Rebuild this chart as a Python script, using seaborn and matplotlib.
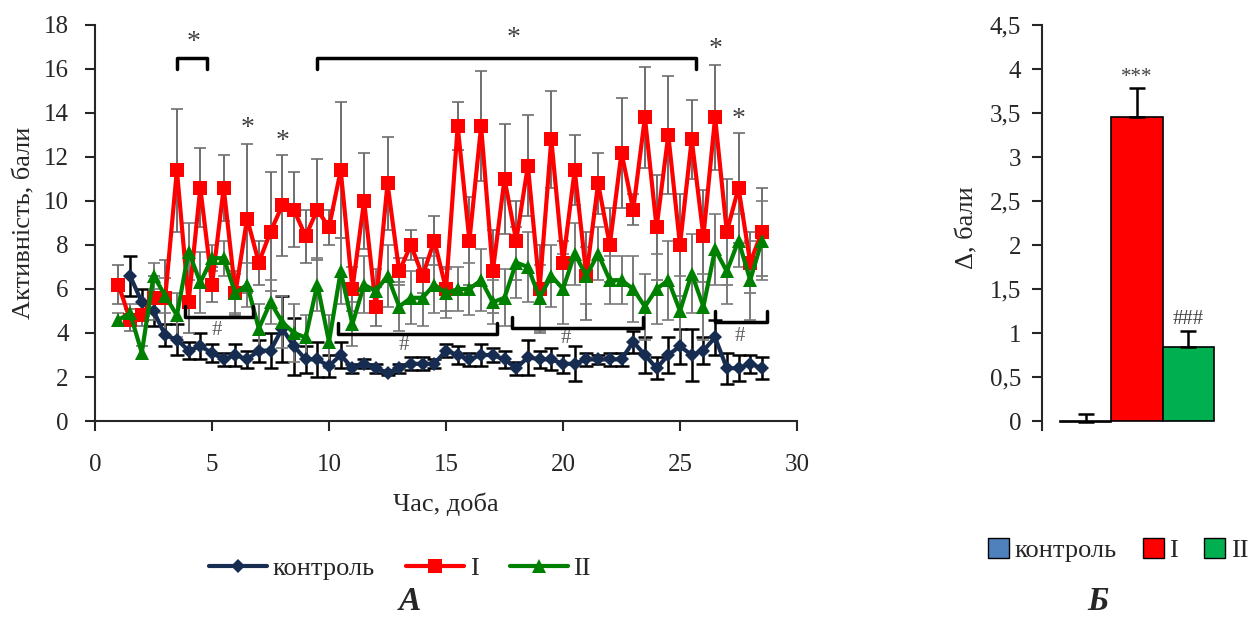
import matplotlib
matplotlib.use("Agg")
import matplotlib.pyplot as plt
from matplotlib.patches import Patch
import seaborn as sns
import pandas as pd
import numpy as np

# Дані
days = [1.0, 1.5, 2.0, 2.5, 3.0, 3.5, 4.0, 4.5, 5.0, 5.5, 6.0, 6.5, 7.0, 7.5,
        8.0, 8.5, 9.0, 9.5, 10.0, 10.5, 11.0, 11.5, 12.0, 12.5, 13.0, 13.5,
        14.0, 14.5, 15.0, 15.5, 16.0, 16.5, 17.0, 17.5, 18.0, 18.5, 19.0,
        19.5, 20.0, 20.5, 21.0, 21.5, 22.0, 22.5, 23.0, 23.5, 24.0, 24.5,
        25.0, 25.5, 26.0, 26.5, 27.0, 27.5, 28.0, 28.5]

control = [np.nan, 6.6, 5.4, 5.0, 3.9, 3.7, 3.2, 3.4, 3.1, 2.8, 3.0, 2.8, 3.2, 3.2,
           4.2, 3.4, 2.8, 2.8, 2.5, 3.0, 2.4, 2.6, 2.4, 2.2, 2.4, 2.6,
           2.6, 2.6, 3.2, 3.0, 2.8, 3.0, 3.0, 2.8, 2.4, 2.9, 2.8,
           2.8, 2.6, 2.6, 2.8, 2.8, 2.8, 2.8, 3.6, 3.0, 2.4, 3.0,
           3.4, 3.0, 3.2, 3.8, 2.4, 2.4, 2.6, 2.4]
control_err = [np.nan, 0.9, 0.6, 0.7, 0.5, 0.7, 0.4, 0.6, 0.4, 0.3, 0.5, 0.4, 0.5, 0.8,
               1.5, 1.3, 0.6, 0.8, 0.5, 0.6, 0.2, 0.2, 0.2, 0.1, 0.2, 0.3,
               0.3, 0.2, 0.3, 0.4, 0.3, 0.5, 0.3, 0.4, 0.3, 0.8, 0.4,
               0.5, 0.4, 0.8, 0.3, 0.2, 0.3, 0.3, 0.5, 0.8, 0.5, 0.8,
               0.8, 1.2, 0.6, 0.8, 0.7, 0.6, 0.4, 0.5]

group_i = [6.2, 4.6, 4.8, 5.6, 5.6, 11.4, 5.4, 10.6, 6.2, 10.6, 5.8, 9.2, 7.2, 8.6,
           9.8, 9.6, 8.4, 9.6, 8.8, 11.4, 6.0, 10.0, 5.2, 10.8, 6.8, 8.0,
           6.6, 8.2, 6.0, 13.4, 8.2, 13.4, 6.8, 11.0, 8.2, 11.6, 6.0,
           12.8, 7.2, 11.4, 6.6, 10.8, 8.0, 12.2, 9.6, 13.8, 8.8, 13.0,
           8.0, 12.8, 8.4, 13.8, 8.6, 10.6, 7.2, 8.6]
group_i_err = [0.9, 0.5, 0.5, 1.0, 1.7, 2.8, 1.4, 1.8, 0.8, 1.5, 1.0, 3.4, 1.0, 2.7,
               2.3, 1.7, 1.2, 2.3, 0.8, 3.1, 1.0, 2.2, 0.9, 2.1, 0.6, 0.7,
               0.8, 1.1, 1.0, 1.1, 2.0, 2.5, 1.9, 2.5, 1.8, 2.3, 2.0,
               2.2, 1.0, 1.6, 2.0, 1.4, 1.7, 2.5, 0.7, 2.3, 2.4, 2.7,
               2.3, 1.8, 2.1, 2.4, 2.4, 2.5, 1.4, 2.0]

group_ii = [4.6, 4.9, 3.1, 6.6, 5.7, 4.8, 7.7, 6.3, 7.4, 7.4, 5.8, 6.2, 4.2, 5.4,
            4.5, 4.0, 3.8, 6.2, 3.6, 6.8, 4.4, 6.2, 5.9, 6.6, 5.2, 5.6,
            5.6, 6.2, 5.8, 6.0, 6.0, 6.4, 5.4, 5.6, 7.2, 7.0, 5.6,
            6.6, 6.0, 7.6, 6.6, 7.6, 6.4, 6.4, 6.0, 5.2, 6.0, 6.4,
            5.0, 6.7, 5.2, 7.8, 6.8, 8.2, 6.4, 8.2]
group_ii_err = [0.3, 0.4, 0.3, 0.6, 0.8, 1.0, 1.3, 1.4, 0.6, 0.8, 0.9, 1.0, 1.1, 1.0,
                1.2, 1.3, 1.0, 1.2, 1.2, 1.5, 1.0, 1.3, 1.0, 1.4, 1.1, 1.2,
                1.3, 1.3, 1.1, 1.0, 1.2, 1.4, 1.0, 1.3, 1.6, 1.6, 1.5,
                1.4, 1.6, 1.4, 1.3, 1.2, 1.1, 1.1, 1.5, 1.5, 1.6, 1.8,
                1.6, 1.8, 1.5, 1.6, 1.5, 1.2, 1.8, 1.8]

# позначки достовірності: (початок, кінець, рівень)
star_brackets = [(3.5, 4.8, 16.5), (9.5, 25.7, 16.5)]
star_labels = [(4.2, 17.2), (17.9, 17.4), (6.5, 13.3), (8.0, 12.7), (26.5, 16.9), (27.5, 13.7)]
hash_brackets = [(3.85, 6.75, 4.75), (10.4, 17.2, 3.95), (17.8, 23.4, 4.25), (26.5, 28.7, 4.5)]
hash_labels = [(5.2, 4.1), (13.2, 3.45), (20.1, 3.75), (27.55, 3.85)]

# Панель Б
bar_groups = ["контроль", "I", "II"]
bar_delta = [-0.01, 3.46, 0.84]
bar_err = [0.09, 0.32, 0.18]
bar_ticks = [0, 0.5, 1, 1.5, 2, 2.5, 3, 3.5, 4, 4.5]
bar_ticklabels = ["0", "0,5", "1", "1,5", "2", "2,5", "3", "3,5", "4", "4,5"]

sns.set_style("ticks")
plt.rcParams["font.family"] = ["Liberation Serif", "DejaVu Serif"]
plt.rcParams["axes.linewidth"] = 1.5

colors = {"контроль": "#172c51", "I": "#ff0000", "II": "#008000"}
markers = {"контроль": "D", "I": "s", "II": "^"}
msizes = {"контроль": 7.5, "I": 10, "II": 10}
bar_colors = {"контроль": "#4f81bd", "I": "#ff0000", "II": "#00b050"}

fig = plt.figure(figsize=(12.49, 6.17), dpi=100)
ax = fig.add_axes([95 / 1249, 1 - 421 / 617, (797 - 95) / 1249, (421 - 25) / 617])

series = [("контроль", control, control_err, "black"),
          ("I", group_i, group_i_err, "#6e6e6e"),
          ("II", group_ii, group_ii_err, "#7a7a7a")]

for name, vals, errs, ecol in series:
    df = pd.DataFrame({"day": days, "value": vals}).dropna()
    ax.errorbar(days, vals, yerr=errs, fmt="none", ecolor=ecol,
                elinewidth=1.8 if name == "контроль" else 1.4,
                capsize=5 if name == "контроль" else 4,
                capthick=1.8 if name == "контроль" else 1.2, zorder=2)
    sns.lineplot(data=df, x="day", y="value", color=colors[name], marker=markers[name],
                 markersize=msizes[name], markeredgewidth=0, linewidth=3,
                 label=name, ax=ax, zorder=3, errorbar=None)

for x0, x1, lev in star_brackets:
    ax.plot([x0, x0, x1, x1], [lev - 0.5, lev, lev, lev - 0.5], color="black", lw=2.5,
            solid_joinstyle="round", solid_capstyle="round", zorder=4)
for x, y in star_labels:
    ax.text(x, y, "*", ha="center", va="center", fontsize=20, color="#404040")
for x0, x1, lev in hash_brackets:
    ax.plot([x0, x0, x1, x1], [lev + 0.5, lev, lev, lev + 0.5], color="black", lw=2.5,
            solid_joinstyle="round", solid_capstyle="round", zorder=4)
for x, y in hash_labels:
    ax.text(x, y, "#", ha="center", va="center", fontsize=15, color="#595959")

ax.set_xlim(0, 30)
ax.set_ylim(0, 18)
ax.set_xticks(range(0, 31, 5))
ax.set_yticks(range(0, 19, 2))
ax.tick_params(axis="both", direction="out", length=7, width=1.5, labelsize=18)
ax.tick_params(axis="x", pad=17)
ax.tick_params(axis="y", pad=12)
ax.set_xlabel("Час, доба", fontsize=19, labelpad=12)
ax.set_ylabel("Активність, бали", fontsize=19, labelpad=6)
sns.despine(ax=ax)
ax.legend(loc="center", bbox_to_anchor=(400 / 1249, 1 - 568 / 617),
          bbox_transform=fig.transFigure, ncol=3, frameon=False, fontsize=19,
          handlelength=2.2, handletextpad=0.2, columnspacing=1.2)
fig.text(410 / 1249, 1 - 602 / 617, "А", ha="center", va="center", fontsize=24,
         fontweight="bold", fontstyle="italic")

# Панель Б
ax2 = fig.add_axes([1042 / 1249, 1 - 430 / 617, (1232 - 1042) / 1249, (430 - 25) / 617])
bdf = pd.DataFrame({"group": bar_groups, "delta": bar_delta})
sns.barplot(data=bdf, x="group", y="delta", hue="group", palette=bar_colors,
            saturation=1, width=1.0, edgecolor="black", linewidth=1.2,
            legend=False, ax=ax2)
ax2.errorbar(range(3), bar_delta, yerr=[[0, 0, 0], bar_err], fmt="none",
             ecolor="black", elinewidth=1.8, capsize=6, capthick=1.8)
ax2.text(1, bar_delta[1] + bar_err[1] + 0.12, "***", ha="center", va="center",
         fontsize=15, color="#404040")
ax2.text(2, bar_delta[2] + bar_err[2] + 0.14, "###", ha="center", va="center",
         fontsize=15, color="#404040")
ax2.set_xlim(-0.85, 2.85)
ax2.set_ylim(-0.1, 4.5)
ax2.set_yticks(bar_ticks)
ax2.set_yticklabels(bar_ticklabels)
ax2.set_xticks([])
ax2.set_xlabel("")
ax2.set_ylabel("Δ, бали", fontsize=19, labelpad=8)
ax2.tick_params(axis="y", direction="out", length=7, width=1.5, labelsize=18, pad=8)
sns.despine(ax=ax2, bottom=True)

handles = [Patch(facecolor=bar_colors[g], edgecolor="black", linewidth=1) for g in bar_groups]
fig.legend(handles, bar_groups, loc="center", bbox_to_anchor=(1118 / 1249, 1 - 550 / 617),
           ncol=3, frameon=False, fontsize=19, handlelength=0.8, handleheight=0.8,
           handletextpad=0.2, columnspacing=1.0)
fig.text(1098 / 1249, 1 - 602 / 617, "Б", ha="center", va="center", fontsize=24,
         fontweight="bold", fontstyle="italic")

fig.savefig("out.png", dpi=100)
